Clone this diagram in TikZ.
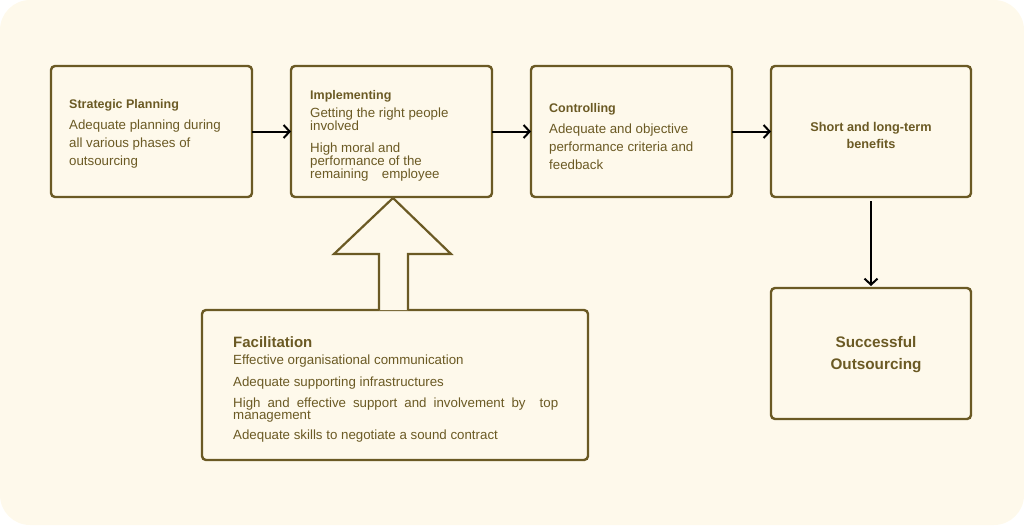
\documentclass[tikz,border=0pt]{standalone}
\usepackage{fontspec}
\setmainfont{Liberation Sans}
\usetikzlibrary{arrows.meta}
\definecolor{cream}{HTML}{FEF9EB}
\definecolor{olive}{HTML}{6B5A24}
\tikzset{
  stagebox/.style={draw=olive, line width=2.4pt, rounded corners=4pt, fill=cream},
  stagetext/.style={text=olive, align=left, inner sep=0pt, anchor=north west},
  flow/.style={draw=black, line width=2pt, -{Straight Barb[length=6pt,width=13pt,line width=2pt]}}
}
\newcommand{\headfont}{\bfseries\fontsize{12.5}{12.5}\selectfont}
\lineskiplimit=-20pt
\begin{document}
\begin{tikzpicture}[x=1pt, y=-1pt]
  % Background card
  \useasboundingbox (0,0) rectangle (1024,525);
  \fill[cream, rounded corners=30pt] (0,0) rectangle (1024,525);

  % Define the stage boxes
  \draw[stagebox] (51,66) rectangle (252,197);
  \draw[stagebox] (291,66) rectangle (492,197);
  \draw[stagebox] (531,66) rectangle (732,197);
  \draw[stagebox] (771,66) rectangle (971,197);
  \draw[stagebox] (771,288) rectangle (971,419);
  \draw[stagebox] (202,310) rectangle (588,460);
  \coordinate (plan) at (151.5,131.5);
  \coordinate (impl) at (391.5,131.5);
  \coordinate (ctrl) at (631.5,131.5);
  \coordinate (bene) at (871,131.5);
  \coordinate (succ) at (871,353.5);

  % Texts of the boxes
  \node[stagetext, font=\fontsize{13.3}{18}\selectfont] (plantext) at (69,99)
    {{\headfont Strategic Planning}\\[3.5pt] Adequate planning during\\ all various phases of\\ outsourcing};
  \node[stagetext, font=\fontsize{13.3}{13}\selectfont] (impltext) at (310,90)
    {{\headfont Implementing}\\[5pt] Getting the right people\\ involved\\[9pt] High moral and\\ performance of the\\ remaining\quad employee};
  \node[stagetext, font=\fontsize{13.3}{18}\selectfont] (ctrltext) at (549,103)
    {{\headfont Controlling}\\[3pt] Adequate and objective\\ performance criteria and\\ feedback};
  \node[text=olive, align=center, font=\bfseries\fontsize{12.7}{17}\selectfont] (benetext) at (871,135)
    {Short and long-term\\ benefits};
  \node[text=olive, align=center, font=\bfseries\fontsize{15.3}{22}\selectfont] (succtext) at (876,355)
    {Successful\\ Outsourcing};
  \node[stagetext, font=\fontsize{13.3}{11}\selectfont] (factext) at (233,336)
    {{\bfseries\fontsize{15}{15}\selectfont Facilitation}\\[6pt]
     Effective organisational communication\\[11pt]
     Adequate supporting infrastructures\\[10pt]
     \makebox[325pt][s]{High and effective support and involvement by \ top}\\[1.5pt]
     management\\[9pt]
     Adequate skills to negotiate a sound contract};

  % Flow arrows between the stages
  \draw[flow] (plan -| 252,0) -- (impl -| 291,0);
  \draw[flow] (impl -| 492,0) -- (ctrl -| 531,0);
  \draw[flow] (ctrl -| 732,0) -- (bene -| 771,0);
  \draw[flow] (bene |- 0,201) -- (succ |- 0,286);

  % Hollow arrow from facilitation up to implementing
  \draw[draw=olive, line width=2.2pt, fill=cream, line join=miter]
    (379,310) -- (379,254) -- (334,254) -- (393,198) -- (451,254) -- (408,254) -- (408,310);
\end{tikzpicture}
\end{document}
